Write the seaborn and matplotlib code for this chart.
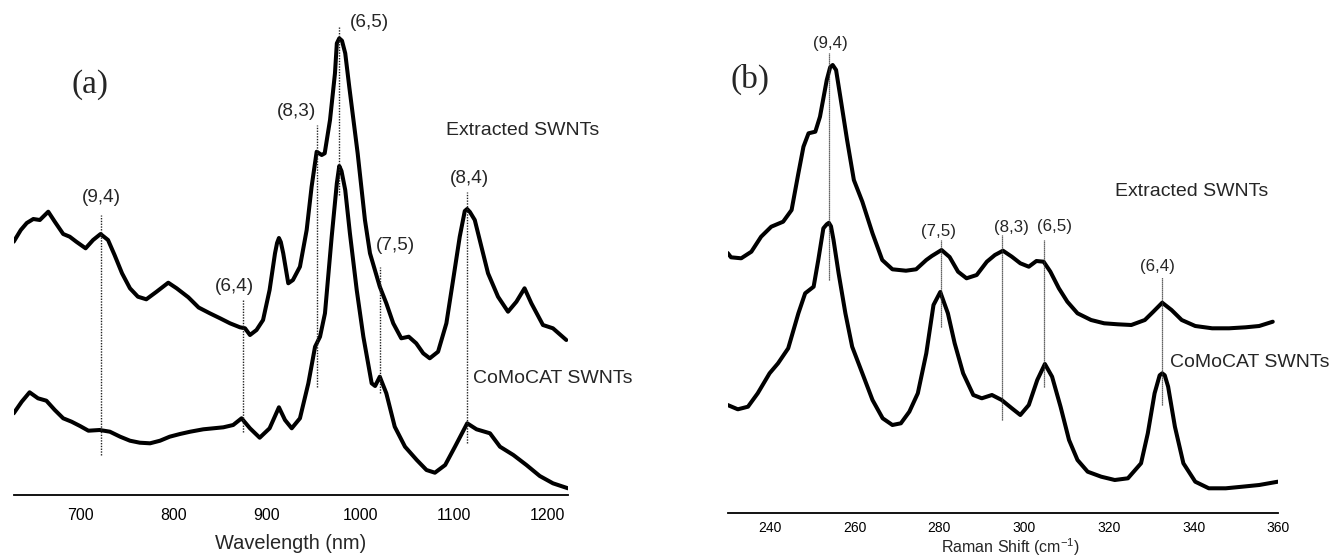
import matplotlib
matplotlib.use("Agg")
import matplotlib.pyplot as plt
import seaborn as sns
from matplotlib.ticker import MultipleLocator

# ---------------- Panel (a): absorption spectra ----------------
wl_ext = [629, 636.6, 643, 650, 657, 666, 673, 682, 689, 696, 706, 714, 722, 730, 737, 745,
          753.5, 762, 771, 782, 794.5, 803.5, 816, 827, 839, 850, 860.6, 871.3, 876.7, 882,
          889, 896, 903, 908.8, 911, 913, 915, 917.6, 923, 928, 935.5, 942.7, 948, 953.4,
          958.8, 962, 967.7, 973, 975, 977.6, 980.5, 984, 988.3, 997.3, 1005.1, 1010.5, 1021,
          1028, 1035.4, 1044, 1052, 1060, 1067.5, 1074.5, 1083.4, 1092.3, 1099.5, 1106.6,
          1112, 1114.5, 1117.5, 1122.7, 1129.8, 1136.9, 1147.6, 1158.3, 1167.3, 1176, 1183.3,
          1195.7, 1206.4, 1220.7]
abs_ext = [253.3, 265, 272, 276, 275, 283.3, 273.3, 261, 258.3, 253.3, 246.7, 255, 261, 255,
           240, 221.7, 206.7, 198.3, 195.7, 203.3, 212.3, 206.7, 197.7, 187.5, 181.7, 176.7,
           171.7, 167.7, 166.7, 160, 165, 175, 205, 241.7, 252, 257, 253, 241.7, 211.7, 215,
           228.3, 265, 308.3, 343.3, 340, 341.7, 375, 421.7, 451.7, 456.7, 454.3, 441.7, 408.3,
           341.7, 275, 241.7, 208.3, 191.7, 171.7, 156.7, 158.3, 151.7, 141.7, 136.7, 143.3,
           171.7, 215, 258.3, 284, 286, 283, 275, 248.3, 221.7, 198.3, 183.3, 193.3, 206.7,
           191.7, 170, 166.7, 155]

wl_com = [629, 637.6, 646, 655, 664, 673, 682, 691, 700, 709, 721, 732, 743, 753.5, 764, 775,
          785.7, 796, 807, 818, 832, 853.5, 864, 873, 882, 892.4, 903, 913, 919.5, 926.7,
          935.5, 944.5, 951.7, 957, 962.3, 969.5, 975, 977.6, 980, 984, 989, 996.3, 1003.4,
          1012.3, 1016, 1021, 1028, 1037, 1048, 1060.6, 1071, 1080, 1091, 1101.5, 1114.6,
          1124.6, 1139, 1149.7, 1164, 1178, 1192.3, 1206.4, 1222.5]
abs_com = [81.7, 93.3, 102.7, 96.7, 94.3, 85, 76.7, 73.3, 69, 64.3, 65, 63.3, 58.3, 54.3, 52.3,
           51.7, 54.3, 58.3, 61, 63.3, 65.7, 67.7, 70, 76.7, 66.7, 57.3, 66.7, 87.7, 75, 66.7,
           76.7, 111.7, 148.3, 158.3, 181.7, 258.3, 311.7, 329, 324, 305, 261.7, 205, 158.3,
           111.7, 109, 118.3, 101.7, 68.3, 48.3, 35, 25, 22.3, 30, 48.3, 71.7, 65.7, 61.7, 48.3,
           40, 30, 19, 11.7, 6.7]

labels_a = ["(9,4)", "(6,4)", "(8,3)", "(6,5)", "(7,5)", "(8,4)"]
peaks_a = [722, 874, 953.4, 977.6, 1021.6, 1114]
line_lo_a = [40, 63.3, 108.3, 300, 101.7, 51.7]
line_hi_a = [280, 195, 370, 468, 228.3, 303.3]
label_x_a = [722.5, 865.2, 932.3, 1009.4, 1037.3, 1116.5]
label_y_a = [298, 208.3, 383.3, 473, 250, 317]

# ---------------- Panel (b): Raman RBM spectra ----------------
rs_ext = [230, 230.8, 233.2, 235.6, 237.9, 240.3, 243.1, 245.1, 246.7, 247.9, 249.1, 250.7,
          251.8, 253.4, 254.2, 254.8, 255.6, 256.6, 258.2, 259.8, 261.8, 264.2, 266.5, 268.9,
          272.1, 274.5, 276.9, 278.2, 280.5, 282.4, 284.4, 286.4, 288.8, 291.2, 293.1, 295,
          297.1, 299.1, 301.1, 302.9, 304.6, 306.2, 308.2, 310.2, 312.6, 315.8, 318.9, 322.1,
          325.3, 328.5, 330.5, 332.6, 334.8, 337.2, 340.4, 344.4, 348.4, 352.3, 355.5, 358.7]
ram_ext = [260.3, 256, 255, 261.6, 276.6, 286.6, 291.6, 303.3, 340, 366.6, 380, 381.6, 396.6,
           433.3, 446, 448.3, 443.3, 416.6, 373.3, 333.3, 311.6, 280, 253.3, 244, 242.6, 244,
           253.3, 257.3, 263.3, 256.3, 241.6, 235, 238.3, 251.6, 258.3, 262.6, 256.6, 250,
           246.6, 252.3, 251.6, 241.6, 225, 211.6, 200, 193.3, 190, 189, 188.3, 193.3, 201.6,
           210.6, 203.3, 193.3, 187.3, 185, 185, 186, 187.3, 191.6]

rs_com = [230, 232.4, 234.8, 237.1, 239.9, 241.9, 244.3, 246.7, 248.3, 250.3, 251.4, 252.6,
          253.4, 253.9, 254.4, 255, 256.2, 257.8, 259.4, 261.8, 264.2, 266.6, 268.9, 270.9,
          272.9, 274.9, 276.9, 278.6, 280.2, 282, 283.6, 285.6, 288, 290, 292.4, 294.7, 297.1,
          299.1, 301.1, 303.1, 304.9, 306.6, 308.6, 310.6, 312.6, 315, 318.2, 321.4, 324.5,
          327.6, 329.2, 330.8, 332, 332.6, 333.2, 334, 335.6, 337.6, 340.4, 343.6, 347.6,
          351.5, 355.5, 359.9]
ram_com = [108.3, 104, 106.6, 120, 140, 150, 165, 200, 220, 226.6, 253.3, 285, 289, 290.5, 287,
           273.3, 240, 200, 166.6, 140, 113.3, 95, 88.3, 90, 101.6, 120, 160, 208.3, 221.3,
           200, 170, 140, 118.3, 115, 118.3, 113.3, 105, 98.3, 108.3, 133.3, 149.3, 136.6,
           106.6, 73.3, 53.3, 41.6, 36.6, 33.3, 35, 50, 80, 120, 138, 140, 138, 126.6, 86.6, 50,
           31.6, 25, 25, 26.6, 28.3, 31.6]

labels_b = ["(9,4)", "(7,5)", "(8,3)", "(6,5)", "(6,4)"]
peaks_b = [253.9, 280.4, 294.7, 304.7, 332.6]
line_lo_b = [233.3, 186.6, 93.3, 126.6, 108.3]
line_hi_b = [460, 273.3, 278.3, 273.3, 236.6]
label_x_b = [254.2, 279.7, 296.9, 307.1, 331.4]
label_y_b = [470, 281.3, 285.3, 286.3, 246.3]

sample_names = ["Extracted SWNTs", "CoMoCAT SWNTs"]
panel_tags = ["(a)", "(b)"]

# ---------------- Drawing ----------------
sns.set_style("white")
plt.rcParams["font.family"] = ["Liberation Sans", "DejaVu Sans"]
plt.rcParams["mathtext.fontset"] = "custom"
plt.rcParams["mathtext.rm"] = "Liberation Sans"

fig = plt.figure(figsize=(13.3, 5.56), dpi=100)
ax1 = fig.add_axes([0.0103, 0.1097, 0.4171, 0.8903])
ax2 = fig.add_axes([0.5471, 0.0768, 0.4140, 0.9232])

lw = 2.9
for x, y in [(wl_ext, abs_ext), (wl_com, abs_com)]:
    sns.lineplot(x=x, y=y, ax=ax1, color="black", linewidth=lw, estimator=None, sort=False,
                 solid_joinstyle="round", solid_capstyle="round")
for x, y in [(rs_ext, ram_ext), (rs_com, ram_com)]:
    sns.lineplot(x=x, y=y, ax=ax2, color="black", linewidth=lw, estimator=None, sort=False,
                 solid_joinstyle="round", solid_capstyle="round")

for p, lo, hi in zip(peaks_a, line_lo_a, line_hi_a):
    ax1.vlines(p, lo, hi, color="#222222", linewidth=1.0, linestyle=(0, (1, 1)), zorder=3)
for p, lo, hi in zip(peaks_b, line_lo_b, line_hi_b):
    ax2.vlines(p, lo, hi, color="#333333", linewidth=0.9, linestyle=(0, (1, 0.6)), zorder=3)

for t, x, y in zip(labels_a, label_x_a, label_y_a):
    ax1.text(x, y, t, ha="center", va="center", fontsize=13.7)
for t, x, y in zip(labels_b, label_x_b, label_y_b):
    ax2.text(x, y, t, ha="center", va="center", fontsize=12.2)

ax1.text(1091.9, 365, sample_names[0], ha="left", va="center", fontsize=14)
ax1.text(1121.1, 116.7, sample_names[1], ha="left", va="center", fontsize=14)
ax2.text(321.4, 321.3, sample_names[0], ha="left", va="center", fontsize=14)
ax2.text(334.5, 150.3, sample_names[1], ha="left", va="center", fontsize=14)

ax1.text(711.2, 410, panel_tags[0], ha="center", va="center", fontsize=24,
         family=["Liberation Serif", "DejaVu Serif"])
ax2.text(235.3, 434, panel_tags[1], ha="center", va="center", fontsize=24,
         family=["Liberation Serif", "DejaVu Serif"])

ax1.set_xlim(629, 1223)
ax1.set_ylim(0, 495)
ax2.set_xlim(230, 360)
ax2.set_ylim(0, 513.3)

for ax in (ax1, ax2):
    for s in ("left", "right", "top"):
        ax.spines[s].set_visible(False)
    ax.spines["bottom"].set_linewidth(1.3)
    ax.spines["bottom"].set_color("black")
    ax.set_yticks([])
    ax.set_ylabel("")
    ax.patch.set_alpha(0)

ax1.xaxis.set_major_locator(MultipleLocator(100))
ax1.xaxis.set_minor_locator(MultipleLocator(50))
ax1.tick_params(axis="x", which="major", direction="out", length=6.5, width=1.1,
                labelsize=11.4, pad=3, colors="black")
ax1.tick_params(axis="x", which="minor", direction="out", length=3.6, width=1.1)
ax1.set_xlabel("Wavelength (nm)", fontsize=14.4)
ax1.xaxis.set_label_coords(0.5, -0.078)

ax2.xaxis.set_major_locator(MultipleLocator(20))
ax2.xaxis.set_minor_locator(MultipleLocator(10))
ax2.tick_params(axis="x", which="major", direction="out", length=3.6, width=1.1,
                labelsize=10, pad=2, colors="black")
ax2.tick_params(axis="x", which="minor", direction="out", length=2.4, width=1.1)
ax2.set_xlabel("Raman Shift (cm$^{-1}$)", fontsize=11.5)
ax2.xaxis.set_label_coords(0.513, -0.044)

fig.savefig("out.png", dpi=100)
